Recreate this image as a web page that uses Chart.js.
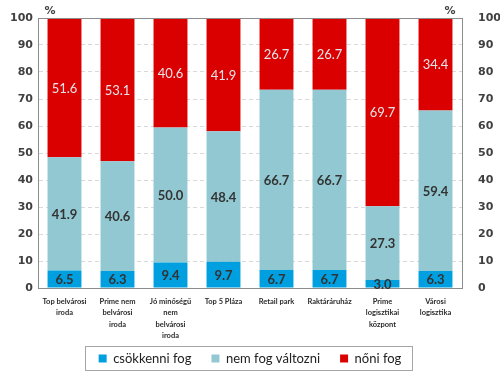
<!DOCTYPE html>
<html lang="hu">
<head>
<meta charset="UTF-8">
<title>Várakozások</title>
<script src="https://cdn.jsdelivr.net/npm/chart.js"></script>
<style>
  html, body { margin: 0; padding: 0; background: #fff; }
  #wrap { width: 500px; height: 375px; }
</style>
</head>
<body>
<div id="wrap"><canvas id="myChart" width="500" height="375"></canvas></div>
<script>
// categories (multi-line labels)
const categories = [
    ['Top belvárosi', 'iroda'],
    ['Prime nem', 'belvárosi', 'iroda'],
    ['Jó minőségű', 'nem', 'belvárosi', 'iroda'],
    ['Top 5 Pláza'],
    ['Retail park'],
    ['Raktáráruház'],
    ['Prime', 'logisztikai', 'központ'],
    ['Városi', 'logisztika']
];

// series values (%)
const csokkenni = [6.5, 6.3, 9.4, 9.7, 6.7, 6.7, 3.0, 6.3];
const nemValtozni = [41.9, 40.6, 50.0, 48.4, 66.7, 66.7, 27.3, 59.4];
const noni = [51.6, 53.1, 40.6, 41.9, 26.7, 26.7, 69.7, 34.4];

const tickFont = { family: 'DejaVu Sans', size: 11, weight: 'bold' };
const tickColor = '#404040';
const axisColor = '#8c8c8c';
const legendLift = 14; // x labels hang low, so the legend sits over their box

// value labels centred in each segment
const segmentLabels = {
    id: 'segmentLabels',
    afterDatasetsDraw(chart) {
        const ctx = chart.ctx;
        ctx.save();
        ctx.textAlign = 'center';
        ctx.textBaseline = 'middle';
        chart.data.datasets.forEach((ds, i) => {
            const meta = chart.getDatasetMeta(i);
            meta.data.forEach((bar, j) => {
                const v = ds.data[j];
                const y = (bar.y + bar.base) / 2;
                if (i === 2) {
                    ctx.font = '13px Lato';
                    ctx.fillStyle = '#e2e6ea';
                } else {
                    ctx.font = 'bold 13px Lato';
                    ctx.fillStyle = '#333333';
                }
                ctx.fillText(v.toFixed(1), bar.x, y + 1);
            });
        });
        ctx.restore();
    }
};

// plot frame, % marks and legend border
const frame = {
    id: 'frame',
    afterLayout(chart) {
        chart.legend.top -= legendLift;
        chart.legend.height += legendLift;
    },
    afterDraw(chart) {
        const ctx = chart.ctx;
        const a = chart.chartArea;
        ctx.save();
        ctx.strokeStyle = axisColor;
        ctx.lineWidth = 1;
        ctx.beginPath();
        ctx.moveTo(a.left, a.top + 0.5);
        ctx.lineTo(a.right, a.top + 0.5);
        ctx.stroke();

        ctx.font = tickFont.weight + ' ' + tickFont.size + 'px ' + tickFont.family;
        ctx.fillStyle = tickColor;
        ctx.textAlign = 'center';
        ctx.textBaseline = 'middle';
        ctx.fillText('%', a.left + 12, 11);
        ctx.fillText('%', a.right - 12, 11);

        const boxes = chart.legend.legendHitBoxes;
        if (boxes && boxes.length) {
            let l = Infinity, r = -Infinity, t = Infinity, b = -Infinity;
            boxes.forEach(h => {
                l = Math.min(l, h.left); r = Math.max(r, h.left + h.width);
                t = Math.min(t, h.top); b = Math.max(b, h.top + h.height);
            });
            ctx.strokeStyle = '#a6a6a6';
            ctx.strokeRect(Math.round(l - 14) + 0.5, Math.round(t - 6) + 0.5,
                Math.round(r - l + 24), Math.round(b - t + 11));
        }
        ctx.restore();
    }
};

const config = {
    type: 'bar',
    data: {
        labels: categories,
        datasets: [{
            label: 'csökkenni fog',
            data: csokkenni,
            backgroundColor: '#009fe0'
        }, {
            label: 'nem fog változni',
            data: nemValtozni,
            backgroundColor: '#92c8d2'
        }, {
            label: 'nőni fog',
            data: noni,
            backgroundColor: '#db0000'
        }]
    },
    options: {
        responsive: false,
        animation: false,
        layout: { padding: { top: 18, left: 0, right: 0, bottom: -legendLift } },
        datasets: {
            bar: { categoryPercentage: 1.0, barPercentage: 0.64 }
        },
        plugins: {
            legend: {
                position: 'bottom',
                labels: {
                    boxWidth: 8,
                    boxHeight: 8,
                    padding: 20,
                    color: '#222',
                    font: { family: 'Lato', size: 13 }
                }
            },
            tooltip: { enabled: false }
        },
        scales: {
            x: {
                stacked: true,
                grid: { display: false },
                border: { display: true, color: axisColor },
                ticks: {
                    maxRotation: 0,
                    autoSkip: false,
                    padding: 0,
                    color: '#2b2b2b',
                    font: { family: 'Lato', size: 7.5, weight: 'bold', lineHeight: 1.5 }
                },
                afterFit(scale) { scale.height = 58; }
            },
            y: {
                stacked: true,
                min: 0,
                max: 100,
                ticks: { stepSize: 10, color: tickColor, font: tickFont, padding: 5 },
                grid: { color: '#d9d9d9', drawTicks: false },
                border: { display: true, color: axisColor, dash: [4, 3] },
                afterFit(scale) { scale.width = 38; }
            },
            y2: {
                position: 'right',
                min: 0,
                max: 100,
                ticks: { stepSize: 10, color: tickColor, font: tickFont, padding: 8 },
                grid: { display: false },
                border: { display: true, color: axisColor },
                afterFit(scale) { scale.width = 38; }
            }
        }
    },
    plugins: [segmentLabels, frame]
};

const ctx = document.getElementById('myChart').getContext('2d');
new Chart(ctx, config);
</script>
</body>
</html>
